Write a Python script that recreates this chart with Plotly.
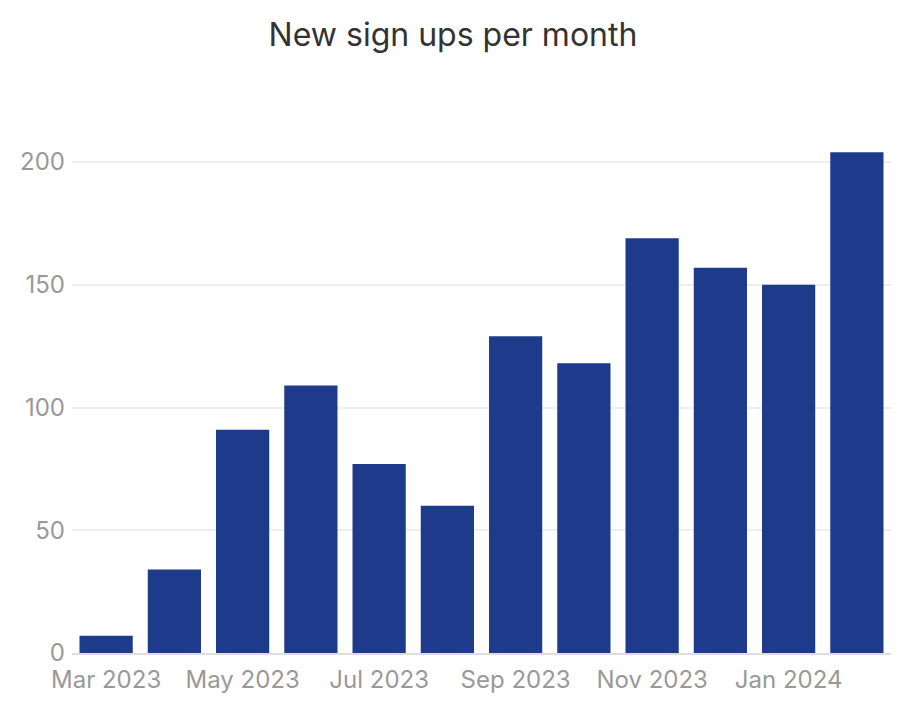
import plotly.graph_objects as go

months = ["Mar 2023", "Apr 2023", "May 2023", "Jun 2023", "Jul 2023", "Aug 2023",
          "Sep 2023", "Oct 2023", "Nov 2023", "Dec 2023", "Jan 2024", "Feb 2024"]
signups = [7, 34, 91, 109, 77, 60, 129, 118, 169, 157, 150, 204]
tick_labels = ["Mar 2023", "May 2023", "Jul 2023", "Sep 2023", "Nov 2023", "Jan 2024"]
y_ticks = [0, 50, 100, 150, 200]

fig = go.Figure(go.Bar(x=months, y=signups, marker=dict(color="#1e3a8a", line=dict(width=0))))

fig.update_layout(
    width=913, height=710,
    margin=dict(l=64, r=30, t=105, b=65),
    paper_bgcolor="white", plot_bgcolor="white",
    bargap=0.22,
    font=dict(family="Inter, Roboto, sans-serif", color="#999999", size=24),
    title=dict(text="New sign ups per month", x=445 / 913, xanchor="center", y=1 - 27 / 710, yanchor="middle",
               font=dict(family="Inter, Roboto, sans-serif", size=32, color="#333333")),
    showlegend=False,
)
fig.update_xaxes(type="category", tickvals=tick_labels, ticktext=tick_labels,
                 showline=True, linecolor="#dddddd", linewidth=2, showgrid=False,
                 ticks="", ticklabelstandoff=4, tickfont=dict(size=24, color="#999999"), range=[-0.5, 11.5])
fig.update_yaxes(range=[0, 220], tickvals=y_ticks, showgrid=True, gridcolor="#eeeeee", gridwidth=1.5,
                 zeroline=False, showline=False, ticks="", ticklabelstandoff=6,
                 tickfont=dict(size=24, color="#999999"))

fig.write_html("out.html")
